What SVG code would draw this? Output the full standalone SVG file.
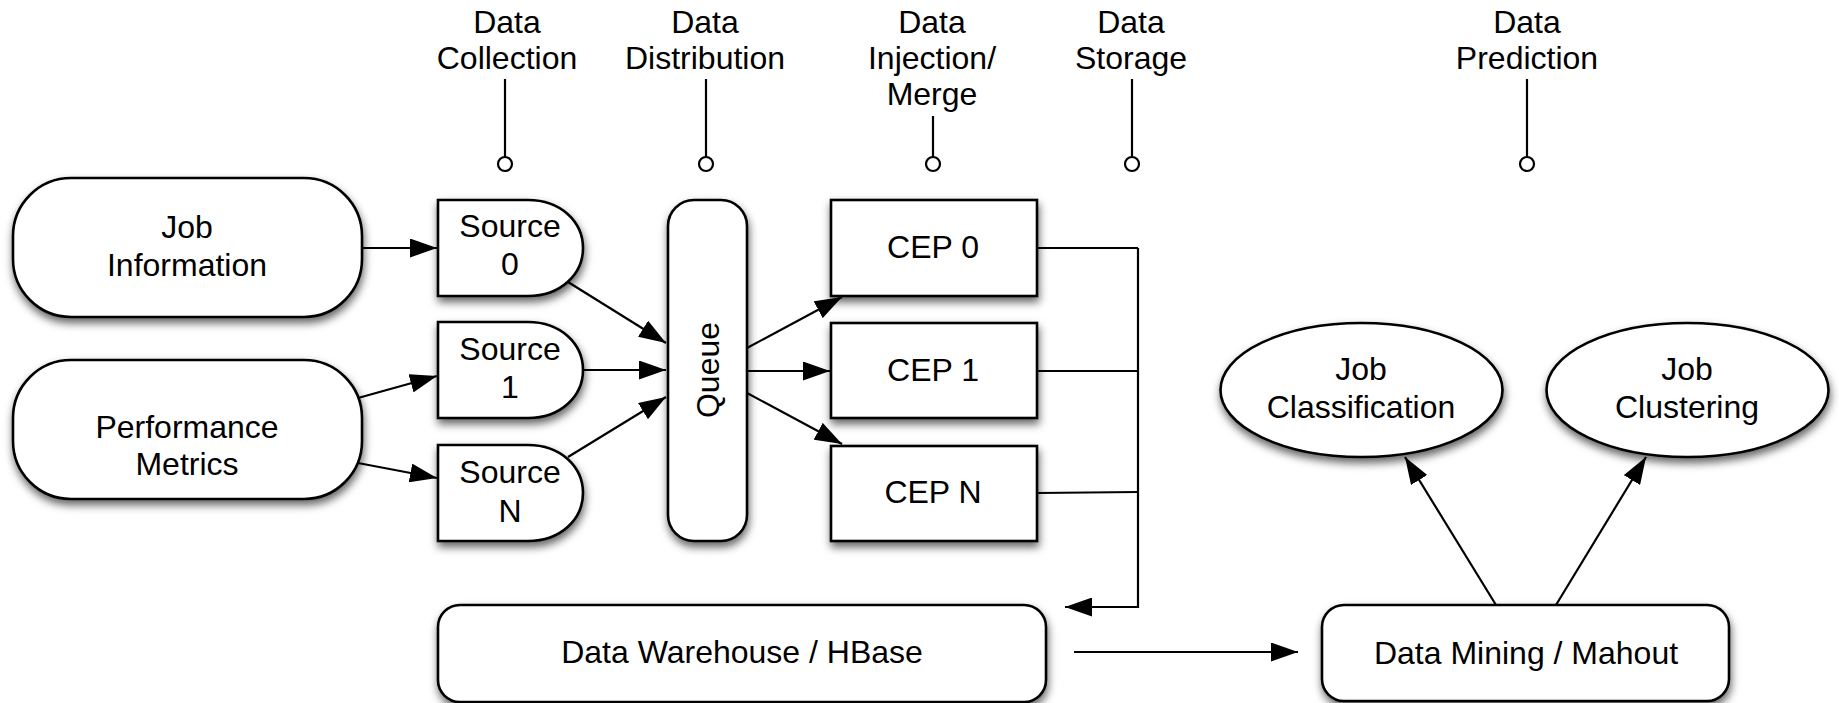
<svg xmlns="http://www.w3.org/2000/svg" width="1839" height="703" viewBox="0 0 1839 703">
<style>
.n{fill:#fff;stroke:#000;stroke-width:2.6;filter:url(#sh)}
.t{font-family:"Liberation Sans",Arial,sans-serif;font-size:32px;fill:#000;text-anchor:middle}
.c{fill:none;stroke:#000;stroke-width:2.2}
.a{fill:none;stroke:#000;stroke-width:2.2;marker-end:url(#ah)}
.p{fill:#fff;stroke:#000;stroke-width:2.2}
</style>
<defs>
<filter id="sh" x="-20%" y="-20%" width="140%" height="150%">
<feDropShadow dx="1" dy="5" stdDeviation="4.5" flood-color="#000" flood-opacity="0.6"/>
</filter>
<marker id="ah" markerUnits="userSpaceOnUse" markerWidth="27" markerHeight="19" refX="27" refY="9.5" orient="auto">
<path d="M0,0 L27,9.5 L0,19 Z" fill="#000"/>
</marker>
</defs>
<rect width="1839" height="703" fill="#fff"/>

<g id="phases">
<g id="ph-collection">
<text class="t" x="507" y="33">Data</text><text class="t" x="507" y="69">Collection</text>
<line class="c" x1="505" y1="79" x2="505" y2="157"/><circle class="p" cx="505" cy="164" r="7"/>
</g>
<g id="ph-distribution">
<text class="t" x="705" y="33">Data</text><text class="t" x="705" y="69">Distribution</text>
<line class="c" x1="706" y1="79" x2="706" y2="157"/><circle class="p" cx="706" cy="164" r="7"/>
</g>
<g id="ph-injection">
<text class="t" x="932" y="33">Data</text><text class="t" x="932" y="69">Injection/</text><text class="t" x="932" y="105">Merge</text>
<line class="c" x1="933" y1="116" x2="933" y2="157"/><circle class="p" cx="933" cy="164" r="7"/>
</g>
<g id="ph-storage">
<text class="t" x="1131" y="33">Data</text><text class="t" x="1131" y="69">Storage</text>
<line class="c" x1="1132" y1="79" x2="1132" y2="157"/><circle class="p" cx="1132" cy="164" r="7"/>
</g>
<g id="ph-prediction">
<text class="t" x="1527" y="33">Data</text><text class="t" x="1527" y="69">Prediction</text>
<line class="c" x1="1527" y1="79" x2="1527" y2="157"/><circle class="p" cx="1527" cy="164" r="7"/>
</g>
</g>

<g id="connectors">
<line class="a" x1="362" y1="248" x2="437" y2="248"/>
<line class="a" x1="358" y1="398" x2="437" y2="376"/>
<line class="a" x1="358" y1="463" x2="437" y2="478"/>
<line class="a" x1="568" y1="282" x2="666" y2="343"/>
<line class="a" x1="583" y1="370" x2="666" y2="370"/>
<line class="a" x1="568" y1="457" x2="666" y2="397"/>
<line class="a" x1="747" y1="348" x2="842" y2="297"/>
<line class="a" x1="747" y1="371" x2="830" y2="371"/>
<line class="a" x1="747" y1="393" x2="842" y2="444"/>
<polyline class="c" points="1037,248 1138,248"/>
<polyline class="c" points="1037,371 1138,371"/>
<polyline class="c" points="1037,493 1138,492"/>
<polyline class="a" points="1138,248 1138,607 1065,607"/>
<line class="a" x1="1074" y1="652" x2="1298" y2="652"/>
<line class="a" x1="1496" y1="605" x2="1405" y2="457"/>
<line class="a" x1="1556" y1="605" x2="1646" y2="457"/>
</g>

<g id="job-information">
<rect class="n" x="13" y="178" width="349" height="139" rx="58" ry="58"/>
<text class="t" x="187" y="238">Job</text><text class="t" x="187" y="276">Information</text>
</g>
<g id="performance-metrics">
<rect class="n" x="13" y="360" width="349" height="139" rx="58" ry="58"/>
<text class="t" x="187" y="438">Performance</text><text class="t" x="187" y="475">Metrics</text>
</g>

<g id="source-0">
<path class="n" d="M438,200 H528 C561,200 583,222 583,248 C583,274 561,296 528,296 H438 Z"/>
<text class="t" x="510" y="237">Source</text><text class="t" x="510" y="275">0</text>
</g>
<g id="source-1">
<path class="n" d="M438,322 H528 C561,322 583,344 583,370 C583,396 561,418 528,418 H438 Z"/>
<text class="t" x="510" y="360">Source</text><text class="t" x="510" y="398">1</text>
</g>
<g id="source-n">
<path class="n" d="M438,445 H528 C561,445 583,467 583,493 C583,519 561,541 528,541 H438 Z"/>
<text class="t" x="510" y="483">Source</text><text class="t" x="510" y="522">N</text>
</g>

<g id="queue">
<rect class="n" x="668" y="200" width="79" height="341" rx="26" ry="26"/>
<text class="t" transform="translate(719,370) rotate(-90)" x="0" y="0">Queue</text>
</g>

<g id="cep-0">
<rect class="n" x="831" y="200" width="206" height="96"/>
<text class="t" x="933" y="258">CEP 0</text>
</g>
<g id="cep-1">
<rect class="n" x="831" y="323" width="206" height="95"/>
<text class="t" x="933" y="381">CEP 1</text>
</g>
<g id="cep-n">
<rect class="n" x="831" y="446" width="206" height="95"/>
<text class="t" x="933" y="503">CEP N</text>
</g>

<g id="data-warehouse">
<rect class="n" x="438" y="605" width="608" height="97" rx="22" ry="22"/>
<text class="t" x="742" y="663">Data Warehouse / HBase</text>
</g>
<g id="data-mining">
<rect class="n" x="1322" y="605" width="407" height="96" rx="22" ry="22"/>
<text class="t" x="1526" y="664">Data Mining / Mahout</text>
</g>

<g id="job-classification">
<ellipse class="n" cx="1361.5" cy="390" rx="141" ry="67"/>
<text class="t" x="1361" y="380">Job</text><text class="t" x="1361" y="418">Classification</text>
</g>
<g id="job-clustering">
<ellipse class="n" cx="1687.5" cy="390" rx="141" ry="67"/>
<text class="t" x="1687" y="380">Job</text><text class="t" x="1687" y="418">Clustering</text>
</g>
</svg>
